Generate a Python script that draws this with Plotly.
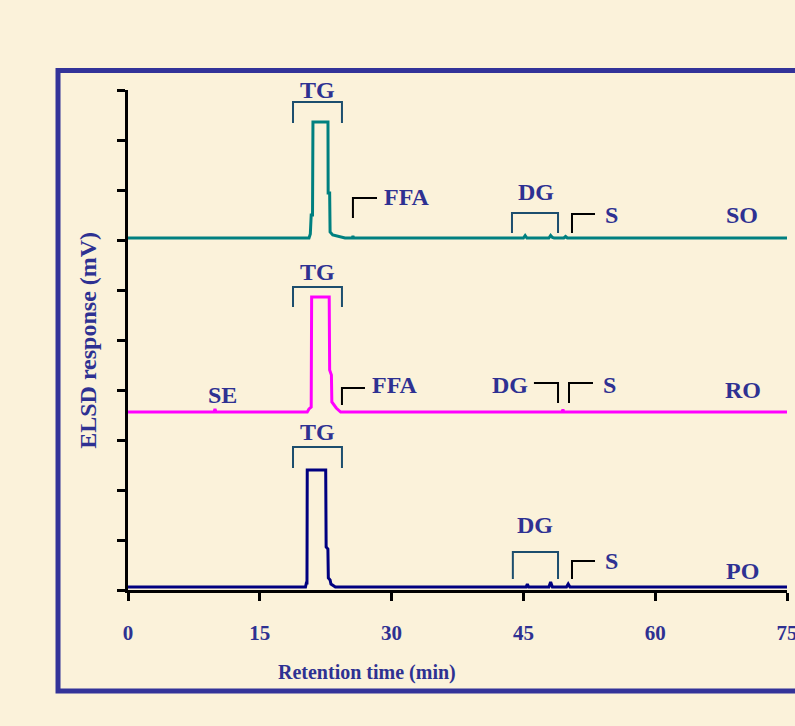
import plotly.graph_objects as go

# ---- data (axis units: time in min, response on a 0-10 stacked scale) ----
so_time = [0, 20.6, 20.75, 20.85, 21.0, 21.05, 22.76, 22.78, 22.95, 23.0, 23.3, 24.7,
           25.5, 25.6, 25.7, 45.0, 45.2, 45.4, 47.9, 48.1, 48.3, 48.5, 49.6, 49.8, 50.0, 75]
so_resp = [7.04, 7.04, 7.12, 7.5, 7.5, 9.36, 9.36, 7.94, 7.94, 7.16, 7.10, 7.04,
           7.04, 7.08, 7.04, 7.04, 7.09, 7.04, 7.04, 7.09, 7.05, 7.04, 7.04, 7.07, 7.04, 7.04]

ro_time = [0, 9.8, 9.9, 10.0, 20.4, 20.6, 20.85, 20.9, 22.9, 22.95, 23.15, 23.2, 23.7,
           24.2, 49.4, 49.5, 49.6, 75]
ro_resp = [3.56, 3.56, 3.62, 3.56, 3.56, 3.62, 3.66, 5.86, 5.86, 4.4, 4.3, 3.76, 3.64,
           3.56, 3.56, 3.61, 3.56, 3.56]

po_time = [0, 20.2, 20.3, 20.37, 20.4, 22.5, 22.55, 22.75, 22.8, 23.0, 23.1, 23.4, 23.6,
           45.3, 45.45, 45.6, 47.9, 48.1, 48.3, 49.9, 50.1, 50.3, 75]
po_resp = [0.06, 0.06, 0.14, 0.14, 2.4, 2.4, 0.86, 0.82, 0.24, 0.2, 0.12, 0.08, 0.06,
           0.06, 0.12, 0.06, 0.06, 0.16, 0.06, 0.06, 0.12, 0.06, 0.06]

x_ticks = [0, 15, 30, 45, 60, 75]
x_ticklabels = ["0", "15", "30", "45", "60", "75"]

# labels: (text, time, response)
labels = [
    ("TG", 21.6, 10.0), ("FFA", 31.7, 7.86), ("DG", 46.4, 7.96), ("S", 55.0, 7.5), ("SO", 69.9, 7.5),
    ("TG", 21.6, 6.36), ("SE", 10.7, 3.9), ("FFA", 30.4, 4.1), ("DG", 43.5, 4.1), ("S", 54.85, 4.1), ("RO", 70.0, 4.0),
    ("TG", 21.6, 3.16), ("DG", 46.3, 1.3), ("S", 55.0, 0.58), ("PO", 69.9, 0.38),
]
# bracket polylines: (times, responses, colour-key)
brackets = [
    ([18.78, 18.78, 24.35, 24.35], [9.34, 9.76, 9.76, 9.34], "grp"),
    ([25.6, 25.6, 28.34], [7.44, 7.84, 7.84], "pk"),
    ([43.7, 43.7, 48.94, 48.94], [7.14, 7.54, 7.54, 7.14], "grp"),
    ([50.53, 50.53, 53.15], [7.14, 7.52, 7.52], "pk"),
    ([18.78, 18.78, 24.35, 24.35], [5.66, 6.06, 6.06, 5.66], "grp"),
    ([24.35, 24.35, 26.97], [3.7, 4.04, 4.04], "pk"),
    ([46.2, 48.94, 48.94], [4.14, 4.14, 3.74], "pk"),
    ([50.19, 50.19, 52.92], [3.74, 4.14, 4.14], "pk"),
    ([18.78, 18.78, 24.35, 24.35], [2.44, 2.86, 2.86, 2.44], "grp"),
    ([43.8, 43.8, 48.94, 48.94], [0.22, 0.76, 0.76, 0.22], "grp"),
    ([50.53, 50.53, 53.15], [0.22, 0.58, 0.58], "pk"),
]

BG = "#FBF2DA"
NAVY_TXT = "#2E3192"
FRAME = "#333399"
FONT = "Liberation Serif, Times New Roman, serif"
bracket_col = {"grp": "#1C4E6E", "pk": "#000000"}

fig = go.Figure()
for xs, ys, key in brackets:
    fig.add_trace(go.Scatter(x=xs, y=ys, mode="lines", line=dict(color=bracket_col[key], width=2),
                             hoverinfo="skip", showlegend=False, cliponaxis=False))

fig.add_trace(go.Scatter(x=so_time, y=so_resp, mode="lines", line=dict(color="#008080", width=3),
                         showlegend=False, name="SO"))
fig.add_trace(go.Scatter(x=ro_time, y=ro_resp, mode="lines", line=dict(color="#FF00FF", width=3),
                         showlegend=False, name="RO"))
fig.add_trace(go.Scatter(x=po_time, y=po_resp, mode="lines", line=dict(color="#000080", width=3),
                         showlegend=False, name="PO"))

for text, x, y in labels:
    fig.add_annotation(x=x, y=y, xref="x", yref="y", text=text, showarrow=False,
                       xanchor="center", yanchor="middle",
                       font=dict(family=FONT, size=24, color=NAVY_TXT, weight="bold"))

# axis titles
fig.add_annotation(x=0.363, y=-0.164, xref="paper", yref="paper", text="Retention time (min)",
                   showarrow=False, xanchor="center", yanchor="middle",
                   font=dict(family=FONT, size=20, color=NAVY_TXT, weight="bold"))
fig.add_annotation(x=-0.061, y=0.5, xref="paper", yref="paper", text="ELSD response (mV)",
                   showarrow=False, xanchor="center", yanchor="middle", textangle=-90,
                   font=dict(family=FONT, size=24, color=NAVY_TXT, weight="bold"))

# outer frame
fig.add_shape(type="rect", xref="paper", yref="paper", x0=-0.1062, x1=1.03, y0=-0.202, y1=1.039,
              line=dict(color=FRAME, width=5), fillcolor="rgba(0,0,0,0)", layer="below")

fig.update_xaxes(range=[0, 75], tickvals=x_ticks, ticktext=x_ticklabels, showgrid=False, zeroline=False,
                 showline=True, linecolor="black", linewidth=3, ticks="outside", ticklen=8,
                 tickwidth=3, tickcolor="black", automargin=False, ticklabelstandoff=14,
                 ticklabeloverflow="allow",
                 tickfont=dict(family=FONT, size=21, color=NAVY_TXT, weight="bold"))
fig.update_yaxes(range=[0, 10], dtick=1, tick0=0, showgrid=False, zeroline=False, showticklabels=False,
                 showline=True, linecolor="black", linewidth=3, ticks="outside", ticklen=8,
                 tickwidth=3, tickcolor="black", automargin=False)

fig.update_layout(width=795, height=726, margin=dict(l=128, r=8, t=90, b=136),
                  paper_bgcolor=BG, plot_bgcolor=BG, showlegend=False)

fig.write_html("out.html", config={"displayModeBar": False},
               post_script="document.body.style.margin='0';document.body.style.overflow='hidden';"
                           "document.body.style.background='%s';" % BG)
